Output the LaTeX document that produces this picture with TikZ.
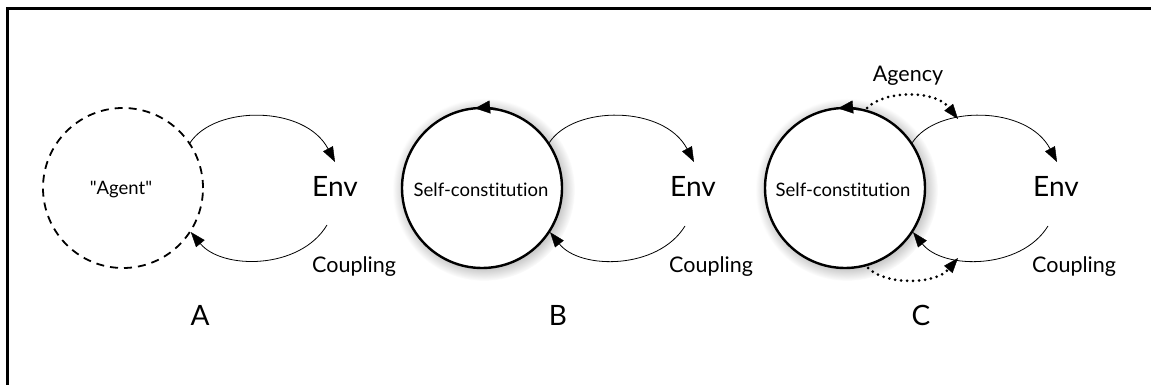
\documentclass[tikz,border=0pt]{standalone}
\usepackage{fontspec}
\setmainfont[Ligatures={NoCommon}]{Lato}
\usetikzlibrary{arrows.meta,calc,shadows,fadings}
\begin{document}
\begin{tikzpicture}[x=1pt,y=1pt,
  txt/.style={inner sep=0pt, anchor=base},
  big/.style={txt, font=\fontsize{28}{30}\selectfont},
  mid/.style={txt, font=\fontsize{21.5}{24}\selectfont},
  inn/.style={txt, font=\fontsize{18.5}{22}\selectfont},
  tipA/.style={-{Triangle[length=15pt,width=11pt,line width=0.4pt]}},
  couple/.style={line width=0.8pt, tipA},
  agcy/.style={line width=3pt, line cap=round, dash pattern=on 0pt off 6pt, tipA},
  selfc/.style={circle, minimum size=160pt, inner sep=0pt, line width=2.4pt, draw, fill=white,
     circular drop shadow={shadow xshift=1.5pt, shadow yshift=-1.5pt, shadow scale=1.14, opacity=0.45}},
  agentc/.style={circle, minimum size=160pt, inner sep=0pt, line width=1.8pt, draw, dash pattern=on 8pt off 6pt},
  circtip/.style={line width=2.4pt, -{Triangle[length=15pt,width=13pt,line width=0.4pt]}},
]
\useasboundingbox (0,0) rectangle (1151,385);
\draw[line width=3pt] (7,0) -- (7,376.5) -- (1151,376.5);

% ---------- Panel A ----------
\node[agentc] (circA) at (123,197) {};
\node[inn] (agentA) at (121,190) {\textquotedbl Agent\textquotedbl};
\node[big, anchor=base west] (envA) at (312,188) {Env};
\node[mid, anchor=base west] (coupA) at (312,112) {Coupling};
\node[big] (labA) at (200,59) {A};
\coordinate (topA) at (335,223);
\coordinate (botA) at (327,160);
\draw[couple] (circA.34) .. controls (215,280) and (305,280) .. (topA);
\draw[couple] (botA) .. controls (300,115) and (222,115) .. (circA.-33);

% ---------- Panel B ----------
\node[selfc] (circB) at (482,197) {};
\node[inn] (selfB) at (481,188) {Self-constitution};
\draw[circtip] ($(circB)+(80:80)$) arc[start angle=80, end angle=95, radius=80];
\node[big, anchor=base west] (envB) at (670,188) {Env};
\node[mid, anchor=base west] (coupB) at (669,112) {Coupling};
\node[big] (labB) at (558,59) {B};
\coordinate (topB) at (694,223);
\coordinate (botB) at (685,159);
\draw[couple] (circB.34) .. controls (574,280) and (664,280) .. (topB);
\draw[couple] (botB) .. controls (658,115) and (580,115) .. (circB.-33);

% ---------- Panel C ----------
\node[selfc] (circC) at (845,197) {};
\node[inn] (selfC) at (843,188) {Self-constitution};
\draw[circtip] ($(circC)+(80:80)$) arc[start angle=80, end angle=95, radius=80];
\node[big, anchor=base west] (envC) at (1033,188) {Env};
\node[mid, anchor=base west] (coupC) at (1032,112) {Coupling};
\node[big] (labC) at (921,59) {C};
\node[mid] (agency) at (908,303) {Agency};
\coordinate (topC) at (1057,223);
\coordinate (botC) at (1048,159);
\draw[couple] (circC.34) .. controls (937,280) and (1027,280) .. (topC);
\draw[couple] (botC) .. controls (1021,115) and (943,115) .. (circC.-33);
\coordinate (agS) at (867,277);
\coordinate (agT) at (958,266);
\coordinate (agS2) at (868,117);
\coordinate (agT2) at (958,127);
\draw[agcy] (agS) .. controls (885,295) and (935,295) .. (agT);
\draw[agcy] (agS2) .. controls (885,100) and (935,100) .. (agT2);
\end{tikzpicture}
\end{document}
